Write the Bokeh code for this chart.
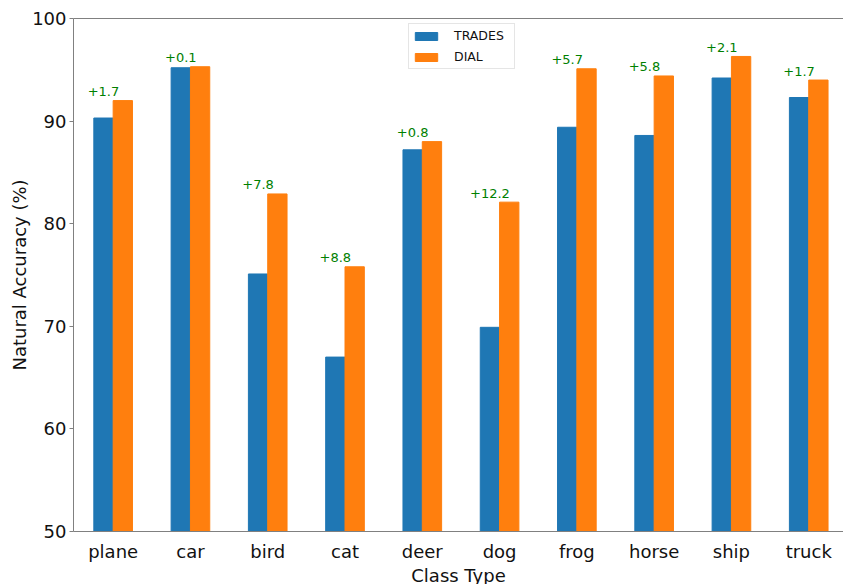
from bokeh.plotting import figure
from bokeh.models import (ColumnDataSource, Range1d, FixedTicker, LinearAxis,
                          Legend, LegendItem)
from bokeh.core.properties import value
from bokeh.embed import file_html
from bokeh.resources import INLINE

categories = ["plane", "car", "bird", "cat", "deer", "dog", "frog", "horse", "ship", "truck"]
trades = [90.3, 95.2, 75.1, 67.0, 87.2, 69.9, 89.4, 88.6, 94.2, 92.3]
dial = [92.0, 95.3, 82.9, 75.8, 88.0, 82.1, 95.1, 94.4, 96.3, 94.0]
gain_labels = ["+1.7", "+0.1", "+7.8", "+8.8", "+0.8", "+12.2", "+5.7", "+5.8", "+2.1", "+1.7"]
y_ticks = [50, 60, 70, 80, 90, 100]

FONT = "DejaVu Sans"
SPINE = "#808080"
BAR_W = 0.25

idx = list(range(len(categories)))
src = ColumnDataSource(dict(
    x_t=[i - BAR_W / 2 for i in idx],
    x_d=[i + BAR_W / 2 for i in idx],
    trades=trades,
    dial=dial,
    label=gain_labels,
))

p = figure(frame_width=770, frame_height=513, output_backend="svg",
           toolbar_location=None,
           x_range=Range1d(-0.513, 9.45), y_range=Range1d(50, 100),
           min_border_left=73, min_border_right=0, min_border_top=18,
           min_border_bottom=53)
p.outline_line_color = None
p.grid.visible = False
p.background_fill_color = "white"
p.border_fill_color = "white"

r_t = p.vbar(x="x_t", top="trades", width=BAR_W, source=src,
             fill_color="#1f77b4", line_color="#1f77b4")
r_d = p.vbar(x="x_d", top="dial", width=BAR_W, source=src,
             fill_color="#ff7f0e", line_color="#ff7f0e")

p.text(x="x_t", y="dial", text="label", source=src, text_color="#008000",
       text_font=value(FONT), text_font_size="13px", text_align="center",
       text_baseline="middle", y_offset=-9)

# axes
xa = p.xaxis[0]
xa.ticker = FixedTicker(ticks=idx)
xa.major_label_overrides = {i: c for i, c in zip(idx, categories)}
xa.axis_label = "Class Type"
ya = p.yaxis[0]
ya.ticker = FixedTicker(ticks=y_ticks)
ya.axis_label = "Natural Accuracy (%)"

for ax in (xa, ya):
    ax.axis_line_color = SPINE
    ax.major_tick_line_color = SPINE
    ax.minor_tick_line_color = None
    ax.major_tick_in = 0
    ax.major_label_text_font = FONT
    ax.major_label_text_font_size = "18px"
    ax.major_label_text_color = "#111111"
    ax.axis_label_text_font = FONT
    ax.axis_label_text_font_size = "18px"
    ax.axis_label_text_font_style = "normal"
    ax.axis_label_text_color = "#111111"
xa.major_tick_out = 0
xa.major_label_standoff = 9
xa.axis_label_standoff = 0
ya.major_tick_out = 4
ya.major_label_standoff = 3
ya.axis_label_standoff = -1

top_axis = LinearAxis(ticker=FixedTicker(ticks=[]), axis_line_color=SPINE,
                      major_tick_out=0, major_tick_in=0, minor_tick_out=0,
                      minor_tick_in=0, major_label_text_font_size="0px",
                      major_label_standoff=0)
p.add_layout(top_axis, "above")

legend = Legend(items=[LegendItem(label="TRADES", renderers=[r_t]),
                       LegendItem(label="DIAL", renderers=[r_d])],
                location=(335, 462), orientation="vertical",
                label_text_font=FONT, label_text_font_size="12.5px",
                label_text_color="#111111",
                glyph_width=28, glyph_height=10, label_height=17,
                label_width=57,
                padding=3, spacing=4, label_standoff=14, margin=0,
                border_line_color="#cccccc", border_line_width=1,
                background_fill_color="white", background_fill_alpha=1)
p.add_layout(legend, "center")

open("out.html", "w").write(file_html(p, INLINE))
